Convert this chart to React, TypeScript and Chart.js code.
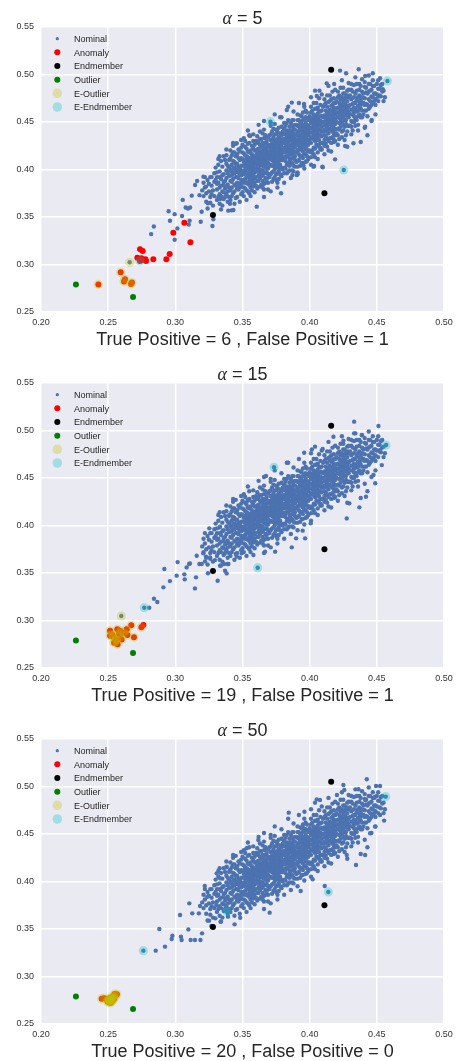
import React, { useEffect, useRef } from "react";
import { Chart, registerables } from "chart.js";
Chart.register(...registerables);

type P = [number, number];

const X_TICKS = [0.2, 0.25, 0.3, 0.35, 0.4, 0.45, 0.5];
const Y_TICKS = [0.25, 0.3, 0.35, 0.4, 0.45, 0.5, 0.55];
const ALPHAS = [5, 15, 50];
const TRUE_POS = [6, 19, 20];
const FALSE_POS = [1, 1, 0];
const SERIES_NAMES = ["Nominal", "Anomaly", "Endmember", "Outlier", "E-Outlier", "E-Endmember"];

// dense nominal cloud shared by the three panels
const NOMINAL_CORE: P[] = [
  [.321,.372],[.322,.381],[.323,.366],[.324,.389],[.325,.377],[.326,.371],[.326,.392],[.327,.383],[.328,.362],[.328,.378],[.329,.387],[.329,.396],[.324,.359],[.322,.392],[.327,.374],
  [.331,.379],[.331,.392],[.332,.371],[.332,.386],[.333,.398],[.333,.364],[.334,.383],[.334,.390],[.335,.377],[.335,.403],[.336,.369],[.336,.387],[.336,.395],[.337,.380],[.337,.410],[.338,.374],[.338,.391],[.338,.399],[.339,.384],[.339,.366],[.332,.405],[.334,.358],[.335,.394],[.337,.388],[.333,.381],[.336,.376],[.339,.396],[.331,.385],[.338,.382],[.340,.371],
  [.341,.388],[.341,.399],[.341,.412],[.342,.381],[.342,.394],[.342,.405],[.343,.375],[.343,.390],[.343,.401],[.343,.418],[.344,.384],[.344,.396],[.344,.408],[.345,.370],[.345,.392],[.345,.400],[.345,.414],[.346,.386],[.346,.397],[.346,.406],[.347,.379],[.347,.391],[.347,.403],[.347,.421],[.348,.385],[.348,.395],[.348,.410],[.349,.374],[.349,.389],[.349,.399],[.349,.404],[.340,.393],[.340,.402],[.344,.364],[.346,.416],[.348,.381],[.342,.387],[.345,.383],[.347,.398],[.349,.412],[.341,.378],[.343,.396],[.346,.392],[.348,.402],[.350,.386],
  [.351,.395],[.351,.404],[.351,.417],[.351,.381],[.352,.390],[.352,.399],[.352,.410],[.352,.424],[.353,.386],[.353,.396],[.353,.406],[.353,.414],[.354,.377],[.354,.392],[.354,.402],[.354,.419],[.355,.384],[.355,.398],[.355,.408],[.355,.428],[.356,.389],[.356,.400],[.356,.412],[.356,.372],[.357,.394],[.357,.404],[.357,.416],[.357,.383],[.358,.390],[.358,.401],[.358,.409],[.358,.422],[.359,.386],[.359,.397],[.359,.406],[.359,.414],[.350,.411],[.351,.389],[.352,.415],[.353,.401],[.354,.385],[.354,.409],[.355,.393],[.355,.418],[.356,.396],[.356,.405],[.357,.387],[.357,.410],[.358,.395],[.358,.414],[.359,.391],[.359,.420],[.353,.378],[.356,.381],[.352,.404],[.354,.396],[.357,.399],[.358,.404],[.351,.408],[.355,.412],
  [.361,.398],[.361,.409],[.361,.418],[.361,.428],[.361,.388],[.362,.403],[.362,.413],[.362,.422],[.362,.394],[.363,.382],[.363,.400],[.363,.410],[.363,.419],[.363,.432],[.364,.393],[.364,.405],[.364,.415],[.364,.425],[.365,.388],[.365,.399],[.365,.408],[.365,.418],[.365,.438],[.366,.396],[.366,.412],[.366,.421],[.366,.379],[.367,.402],[.367,.410],[.367,.416],[.367,.428],[.367,.391],[.368,.397],[.368,.406],[.368,.414],[.368,.423],[.369,.386],[.369,.401],[.369,.411],[.369,.419],[.369,.434],[.360,.401],[.360,.415],[.362,.408],[.362,.417],[.363,.405],[.364,.399],[.364,.411],[.365,.414],[.366,.403],[.366,.408],[.366,.426],[.367,.397],[.367,.421],[.368,.410],[.368,.418],[.369,.395],[.369,.407],[.361,.413],[.363,.426],[.364,.419],[.365,.394],[.368,.401],[.370,.414],[.370,.424],
  [.371,.405],[.371,.416],[.371,.426],[.371,.437],[.372,.397],[.372,.410],[.372,.420],[.372,.430],[.373,.390],[.373,.404],[.373,.414],[.373,.424],[.373,.443],[.374,.400],[.374,.411],[.374,.419],[.374,.431],[.375,.395],[.375,.407],[.375,.417],[.375,.427],[.375,.437],[.376,.402],[.376,.413],[.376,.422],[.376,.386],[.377,.409],[.377,.418],[.377,.426],[.377,.434],[.377,.398],[.378,.405],[.378,.415],[.378,.423],[.378,.430],[.379,.393],[.379,.410],[.379,.420],[.379,.428],[.379,.445],[.371,.411],[.371,.421],[.372,.415],[.372,.425],[.373,.409],[.373,.419],[.374,.406],[.374,.426],[.375,.412],[.375,.422],[.376,.408],[.376,.418],[.376,.429],[.377,.413],[.377,.422],[.378,.410],[.378,.419],[.378,.427],[.379,.415],[.379,.424],[.374,.414],[.376,.432],[.378,.401],[.380,.419],[.380,.428],
  [.381,.413],[.381,.423],[.381,.432],[.381,.443],[.381,.402],[.382,.418],[.382,.427],[.382,.437],[.382,.409],[.383,.396],[.383,.414],[.383,.424],[.383,.434],[.383,.449],[.384,.407],[.384,.419],[.384,.428],[.384,.440],[.385,.411],[.385,.421],[.385,.431],[.385,.445],[.385,.399],[.386,.416],[.386,.426],[.386,.435],[.387,.406],[.387,.420],[.387,.430],[.387,.439],[.387,.452],[.388,.413],[.388,.424],[.388,.433],[.388,.443],[.389,.403],[.389,.418],[.389,.428],[.389,.437],[.389,.447],[.381,.428],[.382,.422],[.382,.432],[.383,.419],[.383,.429],[.384,.423],[.384,.434],[.385,.426],[.385,.436],[.386,.421],[.386,.431],[.386,.441],[.387,.425],[.387,.434],[.388,.419],[.388,.429],[.388,.438],[.389,.423],[.389,.433],[.390,.427],
  [.391,.420],[.391,.431],[.391,.440],[.391,.452],[.391,.409],[.392,.425],[.392,.435],[.392,.445],[.392,.416],[.393,.404],[.393,.421],[.393,.431],[.393,.442],[.393,.457],[.394,.414],[.394,.427],[.394,.437],[.394,.448],[.395,.419],[.395,.430],[.395,.440],[.395,.452],[.395,.407],[.396,.424],[.396,.434],[.396,.444],[.397,.416],[.397,.428],[.397,.438],[.397,.449],[.397,.462],[.398,.421],[.398,.432],[.398,.442],[.398,.454],[.399,.411],[.399,.426],[.399,.436],[.399,.446],[.391,.436],[.392,.430],[.392,.440],[.393,.426],[.393,.436],[.394,.432],[.394,.442],[.395,.435],[.395,.445],[.396,.429],[.396,.439],[.397,.433],[.397,.443],[.398,.437],[.398,.447],[.399,.441],
  [.401,.428],[.401,.439],[.401,.449],[.401,.460],[.401,.418],[.402,.433],[.402,.444],[.402,.454],[.403,.423],[.403,.437],[.403,.447],[.403,.458],[.403,.470],[.404,.430],[.404,.441],[.404,.451],[.404,.413],[.405,.434],[.405,.445],[.405,.455],[.405,.464],[.406,.426],[.406,.438],[.406,.448],[.406,.459],[.407,.431],[.407,.442],[.407,.452],[.407,.475],[.408,.421],[.408,.436],[.408,.446],[.408,.456],[.409,.440],[.409,.450],[.409,.462],[.409,.428],[.401,.444],[.402,.449],[.403,.442],[.404,.446],[.404,.456],[.405,.440],[.405,.450],[.406,.443],[.406,.453],[.407,.447],[.408,.451],[.409,.445],[.410,.455],
  [.411,.436],[.411,.447],[.411,.457],[.411,.468],[.411,.425],[.412,.441],[.412,.452],[.412,.462],[.413,.432],[.413,.445],[.413,.455],[.413,.466],[.413,.478],[.414,.438],[.414,.449],[.414,.459],[.414,.420],[.415,.443],[.415,.453],[.415,.463],[.415,.472],[.416,.433],[.416,.447],[.416,.457],[.416,.467],[.417,.440],[.417,.451],[.417,.461],[.417,.482],[.418,.429],[.418,.444],[.418,.455],[.418,.465],[.419,.448],[.419,.458],[.419,.470],[.419,.436],[.412,.457],[.413,.450],[.414,.454],[.415,.458],[.416,.452],[.417,.456],[.418,.460],[.419,.453],
  [.421,.443],[.421,.455],[.421,.465],[.421,.476],[.422,.449],[.422,.460],[.422,.470],[.422,.432],[.423,.453],[.423,.463],[.423,.474],[.423,.486],[.424,.440],[.424,.457],[.424,.467],[.425,.447],[.425,.461],[.425,.471],[.425,.480],[.426,.452],[.426,.464],[.426,.474],[.427,.436],[.427,.458],[.427,.468],[.428,.446],[.428,.462],[.428,.472],[.428,.483],[.429,.455],[.429,.466],[.429,.476],[.424,.462],[.426,.469],[.428,.466],
  [.431,.451],[.431,.463],[.431,.474],[.431,.484],[.432,.458],[.432,.469],[.432,.441],[.433,.465],[.433,.476],[.433,.489],[.434,.453],[.434,.470],[.435,.461],[.435,.473],[.435,.483],[.436,.447],[.436,.467],[.437,.458],[.437,.478],[.437,.490],[.438,.464],[.438,.473],[.439,.455],[.439,.470],[.439,.482],
  [.441,.462],[.441,.475],[.441,.487],[.442,.469],[.442,.481],[.443,.456],[.444,.474],[.444,.490],[.445,.466],[.445,.483],[.446,.477],[.447,.470],[.447,.488],[.448,.480],[.449,.474],
  [.451,.485],[.452,.478],[.453,.489],[.454,.482],[.456,.476],
];

// wider spread of the nominal cloud, shared by the three panels
const NOMINAL_SPREAD: P[] = [
  [.320,.378],[.321,.386],[.323,.375],[.325,.385],[.327,.392],[.329,.372],[.330,.389],[.326,.365],
  [.330,.402],[.331,.368],[.332,.411],[.333,.374],[.334,.409],[.335,.362],[.336,.414],[.337,.371],[.338,.406],[.339,.377],[.333,.392],[.336,.384],[.338,.415],[.331,.397],[.339,.404],[.334,.372],
  [.340,.381],[.341,.420],[.342,.372],[.343,.425],[.344,.377],[.345,.427],[.346,.371],[.347,.412],[.348,.366],[.349,.423],[.340,.410],[.342,.415],[.344,.418],[.346,.380],[.348,.419],[.349,.382],[.341,.368],[.343,.409],[.345,.406],[.347,.385],[.349,.394],[.344,.402],[.346,.401],[.342,.398],
  [.350,.376],[.350,.398],[.350,.426],[.351,.433],[.351,.372],[.352,.380],[.352,.430],[.353,.422],[.353,.368],[.354,.427],[.354,.413],[.355,.375],[.355,.436],[.356,.420],[.356,.385],[.357,.425],[.357,.378],[.358,.430],[.358,.382],[.359,.426],[.359,.376],[.350,.418],[.352,.386],[.353,.392],[.354,.405],[.355,.402],[.356,.392],[.357,.407],[.358,.398],[.359,.410],[.351,.399],[.353,.410],[.355,.388],[.357,.391],
  [.360,.383],[.360,.430],[.360,.392],[.361,.435],[.361,.380],[.362,.388],[.362,.430],[.363,.391],[.363,.440],[.364,.384],[.364,.432],[.365,.428],[.365,.381],[.366,.385],[.366,.433],[.366,.442],[.367,.386],[.367,.436],[.368,.390],[.368,.430],[.369,.426],[.369,.379],[.360,.408],[.361,.404],[.362,.399],[.363,.415],[.364,.408],[.365,.404],[.366,.417],[.367,.406],[.368,.413],[.369,.415],[.361,.421],[.363,.396],[.365,.423],[.367,.413],
  [.370,.392],[.370,.436],[.370,.404],[.371,.395],[.371,.446],[.372,.387],[.372,.440],[.373,.398],[.373,.434],[.374,.392],[.374,.437],[.374,.448],[.375,.389],[.375,.442],[.376,.396],[.376,.440],[.377,.390],[.377,.444],[.378,.395],[.378,.438],[.379,.402],[.379,.436],[.370,.418],[.371,.431],[.372,.404],[.373,.428],[.374,.422],[.375,.403],[.376,.425],[.377,.404],[.378,.432],[.379,.418],[.372,.413],[.376,.414],[.373,.417],[.378,.413],
  [.380,.400],[.380,.440],[.380,.410],[.381,.396],[.381,.449],[.382,.401],[.382,.446],[.383,.405],[.383,.441],[.384,.398],[.384,.452],[.385,.404],[.385,.440],[.386,.408],[.386,.449],[.387,.399],[.387,.446],[.388,.404],[.388,.452],[.389,.410],[.389,.442],[.380,.432],[.381,.418],[.382,.413],[.383,.438],[.384,.414],[.385,.416],[.386,.438],[.387,.412],[.388,.436],[.389,.414],[.381,.437],[.384,.431],[.387,.417],[.389,.430],
  [.390,.408],[.390,.447],[.390,.418],[.391,.403],[.391,.458],[.392,.410],[.392,.452],[.393,.414],[.393,.449],[.394,.407],[.394,.456],[.395,.412],[.395,.460],[.396,.416],[.396,.453],[.397,.408],[.397,.455],[.398,.414],[.398,.460],[.399,.419],[.399,.452],[.390,.437],[.391,.426],[.392,.421],[.393,.445],[.394,.422],[.395,.425],[.396,.447],[.397,.424],[.398,.426],[.399,.431],[.391,.446],[.394,.443],[.397,.421],[.399,.438],
  [.400,.420],[.400,.456],[.400,.430],[.401,.413],[.401,.466],[.402,.420],[.402,.462],[.403,.416],[.403,.453],[.404,.422],[.404,.464],[.405,.426],[.405,.470],[.406,.418],[.406,.465],[.407,.424],[.407,.462],[.408,.428],[.408,.468],[.409,.421],[.409,.456],[.400,.444],[.401,.434],[.402,.439],[.403,.451],[.404,.436],[.405,.431],[.406,.455],[.407,.436],[.408,.441],[.409,.435],[.401,.453],[.403,.432],[.406,.433],[.408,.461],
  [.410,.428],[.410,.466],[.410,.440],[.411,.431],[.411,.474],[.412,.427],[.412,.470],[.413,.424],[.413,.460],[.414,.430],[.414,.471],[.415,.433],[.415,.478],[.416,.428],[.416,.474],[.417,.434],[.417,.468],[.418,.438],[.418,.475],[.419,.430],[.419,.464],[.410,.450],[.411,.442],[.412,.446],[.413,.440],[.414,.443],[.415,.448],[.416,.441],[.417,.446],[.418,.449],[.419,.442],[.412,.435],[.416,.462],[.418,.470],
  [.420,.438],[.420,.472],[.420,.450],[.421,.436],[.421,.482],[.422,.442],[.422,.478],[.423,.445],[.423,.468],[.424,.434],[.424,.476],[.425,.441],[.425,.486],[.426,.445],[.426,.480],[.427,.448],[.427,.476],[.428,.440],[.428,.478],[.429,.446],[.429,.484],[.420,.460],[.421,.460],[.422,.455],[.423,.458],[.424,.450],[.425,.455],[.426,.458],[.427,.462],[.428,.456],[.429,.460],[.422,.465],[.425,.466],[.427,.452],
  [.430,.446],[.430,.478],[.430,.458],[.431,.445],[.431,.490],[.432,.450],[.432,.482],[.433,.456],[.433,.470],[.434,.446],[.434,.480],[.435,.452],[.435,.490],[.436,.456],[.436,.476],[.437,.465],[.437,.484],[.438,.455],[.438,.488],[.439,.462],[.439,.476],[.430,.468],[.432,.463],[.433,.460],[.434,.464],[.436,.462],[.437,.471],[.438,.468],
  [.440,.458],[.440,.480],[.440,.470],[.441,.468],[.441,.492],[.442,.462],[.442,.486],[.443,.468],[.443,.480],[.444,.464],[.444,.482],[.445,.472],[.445,.490],[.446,.468],[.446,.484],[.447,.476],[.447,.494],[.448,.472],[.448,.488],[.449,.480],[.449,.468],
  [.450,.479],[.450,.490],[.451,.472],[.451,.494],[.452,.485],[.453,.477],[.454,.490],[.455,.483],[.455,.472],
];

// scattered points along both edges of the cloud, shared by the three panels
const NOMINAL_FRINGE: P[] = [
  [.349,.431],[.354,.441],[.358,.437],[.362,.447],[.366,.451],[.371,.449],[.374,.458],[.379,.455],[.384,.466],[.388,.461],[.392,.470],[.396,.466],[.401,.476],[.404,.483],[.409,.479],[.414,.488],[.419,.484],[.424,.494],[.429,.491],[.434,.497],[.439,.495],[.444,.499],[.343,.428],[.338,.421],[.333,.414],
  [.366,.371],[.371,.377],[.376,.381],[.381,.386],[.386,.391],[.391,.395],[.396,.401],[.401,.405],[.406,.411],[.411,.416],[.416,.419],[.421,.426],[.426,.431],[.431,.437],[.436,.441],[.441,.444],[.446,.451],[.449,.458],[.438,.429],[.428,.424],[.418,.431],[.408,.423],[.433,.450],[.443,.436],[.398,.409],[.388,.398],
];

const NOMINAL_TAIL_1: P[] = [
  [.282,.332],[.284,.340],[.295,.356],[.296,.346],[.2995,.353],[.2995,.326],[.3015,.338],[.305,.351],[.3055,.368],[.3077,.360],[.3094,.359],[.311,.360],[.310,.342],[.3106,.346],[.3122,.3725],[.3147,.3837],[.3162,.3879],[.3189,.345],[.3196,.3556],[.318,.373],[.3243,.3644],[.3276,.3405],[.3283,.3477],[.3333,.369],[.3394,.3567],[.3419,.357],[.3407,.364],[.3606,.3609],[.3787,.375],[.3871,.3939],[.391,.397],[.4028,.403],[.4095,.403],
  [.3457,.4276],[.3556,.4353],[.3708,.4503],[.378,.455],[.383,.4627],[.3867,.4704],[.3958,.469],[.4053,.4774],[.4073,.483],[.4127,.4907],[.4182,.49],[.4226,.5041],[.4271,.5013],[.4365,.5055],[.4413,.4985],[.447,.5013],[.4524,.496],[.4579,.4932],[.4544,.4844],[.451,.4767],[.4462,.4522],[.4413,.4451],[.4326,.4276],[.4264,.4248],[.4189,.4107],[.4097,.4023],[.4254,.3995],[.4033,.4037],[.3953,.4044],[.3904,.3942],[.3432,.3574],[.3209,.3925],[.3229,.382],[.266,.3023],
];
const NOMINAL_TAIL_2: P[] = [
  [.2769,.3135],[.2806,.3135],[.2841,.3229],[.2866,.3194],[.2911,.3349],[.2960,.3415],[.2918,.3542],[.3017,.3615],[.3010,.3472],[.3067,.3486],[.3070,.3433],[.3084,.3559],[.3102,.3594],[.3109,.3601],[.3146,.3338],[.3154,.3454],[.3159,.3682],[.3179,.3594],[.3196,.3594],[.3208,.3707],[.3228,.3672],[.3221,.3622],[.3258,.3665],[.3295,.3636],[.3315,.3419],[.3333,.3577],[.3362,.3594],[.3370,.3524],[.3382,.3496],[.3395,.3594],[.3243,.3497],[.3388,.3595],[.3457,.3672],[.3494,.3707],[.3581,.3690],[.3668,.3725],[.3743,.3725],[.3867,.3770],[.3899,.3865],[.3948,.3946],[.3966,.3865],[.4008,.4023],
  [.4331,.5093],[.4512,.5047],[.4177,.4935],[.4331,.4970],[.4388,.4952],[.4251,.4893],[.4525,.4794],[.4537,.4636],[.4475,.4531],[.4488,.4444],[.4419,.4303],[.4295,.4233],[.4370,.4191],[.4276,.4075],[.4152,.4689],[.4097,.4805],[.4016,.4801],[.3959,.4766],[.3830,.4661],[.3675,.4521],[.3601,.4310],[.3539,.4261],[.3402,.4110],[.3427,.4065],[.3253,.3970],[.3333,.3987],[.4569,.4847],[.3735,.4613],[.3613,.3556],[.2598,.3047],
];
const NOMINAL_TAIL_3: P[] = [
  [.2762,.3272],[.2854,.3272],[.2881,.3500],[.2923,.3314],[.2973,.3395],[.2978,.3430],[.3035,.3647],[.3042,.3419],[.3047,.3384],[.3097,.3496],[.3104,.3770],[.3114,.3384],[.3146,.3384],[.3175,.3665],[.3187,.3384],[.3199,.3454],[.3219,.3953],[.3238,.3840],[.3251,.3588],[.3268,.3532],[.3298,.3612],[.3305,.3753],[.3337,.3577],[.3392,.3630],[.3441,.3549],[.3483,.3619],[.3702,.3672],[.3933,.3900],[.4112,.3953],[.4022,.4023],[.3126,.3665],[.3184,.3742],[.3385,.3682],[.4139,.389],
  [.4425,.5076],[.4251,.5016],[.4494,.5006],[.4524,.5006],[.4363,.4971],[.4258,.4964],[.4203,.4911],[.4487,.4893],[.4413,.4858],[.4566,.4893],[.4524,.4700],[.4554,.4641],[.4487,.4578],[.4450,.4508],[.4413,.4279],[.4345,.4174],[.4276,.4279],[.4077,.4858],[.4053,.4865],[.3961,.4735],[.3844,.4725],[.3953,.4560],[.3618,.4437],[.3531,.4350],[.3519,.4139],[.3382,.4157],[.3407,.4121],[.3333,.4034],[.3308,.4086],
];

const ANOMALY_1: P[] = [
  [.3067,.344],[.2985,.3335],[.3112,.3234],[.2958,.311],[.2933,.3055],[.2836,.3055],[.2737,.316],[.2757,.3142],[.2782,.3037],[.2717,.3072],[.2777,.3055],[.2757,.305],[.2737,.3037],[.2747,.3065],
  [.2593,.2918],[.2625,.2844],[.2618,.282],[.267,.2795],[.2677,.281],[.2427,.279],
];
const ANOMALY_2: P[] = [
  [.2514,.2893],[.2568,.2907],[.2592,.2890],[.2638,.2907],[.2672,.2949],[.2747,.2928],[.2762,.2953],[.2692,.2823],[.2643,.2847],[.2589,.2829],
  [.2539,.2829],[.2514,.2840],[.2551,.2777],[.2544,.2766],[.2560,.2800],[.2580,.2860],[.2620,.2870],[.2530,.2850],[.2600,.2800],[.2570,.2750],
];
const ANOMALY_3: P[] = [
  [.2452,.2765],[.2470,.2772],[.2500,.2760],[.2510,.2745],[.2515,.2735],[.2505,.2728],[.2520,.2750],[.2530,.2770],[.2540,.2790],[.2548,.2815],
  [.2565,.2812],[.2555,.2800],[.2525,.2780],[.2512,.2770],[.2495,.2740],[.2518,.2725],[.2535,.2755],[.2528,.2740],[.2508,.2752],[.2545,.2768],
];

const ENDMEMBER: P[] = [[.416,.505],[.328,.352],[.411,.375]];
const OUTLIER: P[] = [[.226,.279],[.2685,.2658]];

const E_OUTLIER_1: P[] = [[.2593,.2918],[.2625,.2844],[.2618,.282],[.267,.2795],[.2677,.281],[.2427,.279],[.266,.3023]];
const E_OUTLIER_2: P[] = [
  [.2514,.2893],[.2568,.2907],[.2592,.2890],[.2638,.2907],[.2672,.2949],[.2747,.2928],[.2692,.2823],[.2643,.2847],[.2589,.2829],
  [.2539,.2829],[.2514,.2840],[.2551,.2777],[.2544,.2766],[.2560,.2800],[.2580,.2860],[.2620,.2870],[.2530,.2850],[.2600,.2800],[.2570,.2750],
  [.2598,.3047],
];
const E_OUTLIER_3: P[] = ANOMALY_3;

const E_ENDMEMBER_1: P[] = [[.4579,.4932],[.3708,.4503],[.4254,.3995],[.2737,.3037]];
const E_ENDMEMBER_2: P[] = [[.4569,.4847],[.3735,.4613],[.3613,.3556],[.2769,.3135]];
const E_ENDMEMBER_3: P[] = [[.4566,.4893],[.4139,.389],[.3385,.3682],[.2762,.3272]];

const SHARED_NOMINAL: P[] = [...NOMINAL_CORE, ...NOMINAL_SPREAD, ...NOMINAL_FRINGE];
const PANELS = [
  { nominal: [...SHARED_NOMINAL, ...NOMINAL_TAIL_1], anomaly: ANOMALY_1, eOut: E_OUTLIER_1, eEnd: E_ENDMEMBER_1 },
  { nominal: [...SHARED_NOMINAL, ...NOMINAL_TAIL_2], anomaly: ANOMALY_2, eOut: E_OUTLIER_2, eEnd: E_ENDMEMBER_2 },
  { nominal: [...SHARED_NOMINAL, ...NOMINAL_TAIL_3], anomaly: ANOMALY_3, eOut: E_OUTLIER_3, eEnd: E_ENDMEMBER_3 },
];

const COLORS = ["#4C72B0", "#FF0000", "#000000", "#008000", "rgba(191,191,0,0.3)", "rgba(0,191,191,0.3)"];
const RADII = [2.2, 3, 3, 3, 4.6, 4.6];
const LEGEND_RADII = [1.6, 3, 3, 3, 4.8, 4.8];
const SANS = '"Liberation Sans", Arial, sans-serif';

const PLOT_TOP = 27;
const PLOT_BOTTOM = 312;

const decor = {
  id: "decor",
  beforeDraw(chart: any) {
    const { ctx, chartArea: a } = chart;
    ctx.save();
    ctx.fillStyle = "#EAEAF2";
    ctx.fillRect(a.left, a.top, a.right - a.left, a.bottom - a.top);
    ctx.restore();
  },
  afterDraw(chart: any, _args: any, opts: any) {
    const { ctx, chartArea: a } = chart;
    const cx = (a.left + a.right) / 2;
    ctx.save();
    const greek = "α";
    const rest = " = " + opts.alpha;
    const gFont = 'italic 18px "Liberation Serif", "DejaVu Serif", serif';
    const sFont = "18px " + SANS;
    ctx.font = gFont;
    const w1 = ctx.measureText(greek).width;
    ctx.font = sFont;
    const w2 = ctx.measureText(rest).width;
    const x0 = cx - (w1 + w2) / 2;
    ctx.fillStyle = "#262626";
    ctx.textBaseline = "alphabetic";
    ctx.textAlign = "left";
    ctx.font = gFont;
    ctx.fillText(greek, x0, 23.5);
    ctx.font = sFont;
    ctx.fillText(rest, x0 + w1, 23.5);
    ctx.textAlign = "center";
    ctx.fillText(opts.xlabel, cx, a.bottom + 32.5);
    ctx.font = "9px " + SANS;
    ctx.textAlign = "left";
    chart.data.datasets.forEach((ds: any, i: number) => {
      const yc = a.top + 11.7 + i * 13.66;
      ctx.beginPath();
      ctx.fillStyle = ds.backgroundColor;
      ctx.arc(a.left + 16.3, yc, LEGEND_RADII[i], 0, Math.PI * 2);
      ctx.fill();
      ctx.fillStyle = "#262626";
      ctx.fillText(ds.label, a.left + 33, yc + 3.2);
    });
    ctx.restore();
  },
};

function Panel({ idx, top, height }: { idx: number; top: number; height: number }) {
  const ref = useRef<HTMLCanvasElement>(null);
  useEffect(() => {
    const p = PANELS[idx];
    const series: P[][] = [p.nominal, p.anomaly, ENDMEMBER, OUTLIER, p.eOut, p.eEnd];
    const datasets = series.map((pts, i) => ({
      label: SERIES_NAMES[i],
      data: pts.map(([x, y]) => ({ x, y })),
      backgroundColor: COLORS[i],
      borderWidth: 0,
      pointRadius: RADII[i],
      pointHoverRadius: RADII[i],
      order: 6 - i,
    }));
    const tickFont = { family: SANS, size: 9 };
    const chart = new Chart(ref.current as HTMLCanvasElement, {
      type: "scatter",
      data: { datasets },
      plugins: [decor],
      options: {
        animation: false,
        responsive: false,
        devicePixelRatio: 1,
        events: [],
        layout: { padding: { top: PLOT_TOP, left: 0, right: 15, bottom: 0 } },
        plugins: {
          legend: { display: false },
          tooltip: { enabled: false },
          decor: {
            alpha: ALPHAS[idx],
            xlabel: `True Positive = ${TRUE_POS[idx]} , False Positive = ${FALSE_POS[idx]}`,
          },
        } as any,
        scales: {
          x: {
            type: "linear",
            min: X_TICKS[0],
            max: X_TICKS[X_TICKS.length - 1],
            afterBuildTicks: (s: any) => { s.ticks = X_TICKS.map((v) => ({ value: v })); },
            afterFit: (s: any) => { s.height = height - PLOT_BOTTOM; },
            ticks: { font: tickFont, color: "#333333", padding: 5, maxRotation: 0, callback: (v: any) => Number(v).toFixed(2) },
            grid: { color: "#FFFFFF", lineWidth: 1.5, drawTicks: false },
            border: { display: false },
          },
          y: {
            type: "linear",
            min: Y_TICKS[0],
            max: Y_TICKS[Y_TICKS.length - 1],
            afterBuildTicks: (s: any) => { s.ticks = Y_TICKS.map((v) => ({ value: v })); },
            afterFit: (s: any) => { s.width = 41; },
            ticks: { font: tickFont, color: "#333333", padding: 7, callback: (v: any) => Number(v).toFixed(2) },
            grid: { color: "#FFFFFF", lineWidth: 1.5, drawTicks: false },
            border: { display: false },
          },
        },
      } as any,
    });
    return () => chart.destroy();
  }, [idx, height]);
  return (
    <canvas
      ref={ref}
      width={459}
      height={height}
      style={{ position: "absolute", left: 0, top, width: 459, height, display: "block" }}
    />
  );
}

export default function App() {
  return (
    <div style={{ position: "absolute", left: 0, top: 0, width: 459, height: 1061, overflow: "hidden", background: "#fff" }}>
      <Panel idx={0} top={0} height={356} />
      <Panel idx={1} top={356} height={356} />
      <Panel idx={2} top={712} height={349} />
    </div>
  );
}
